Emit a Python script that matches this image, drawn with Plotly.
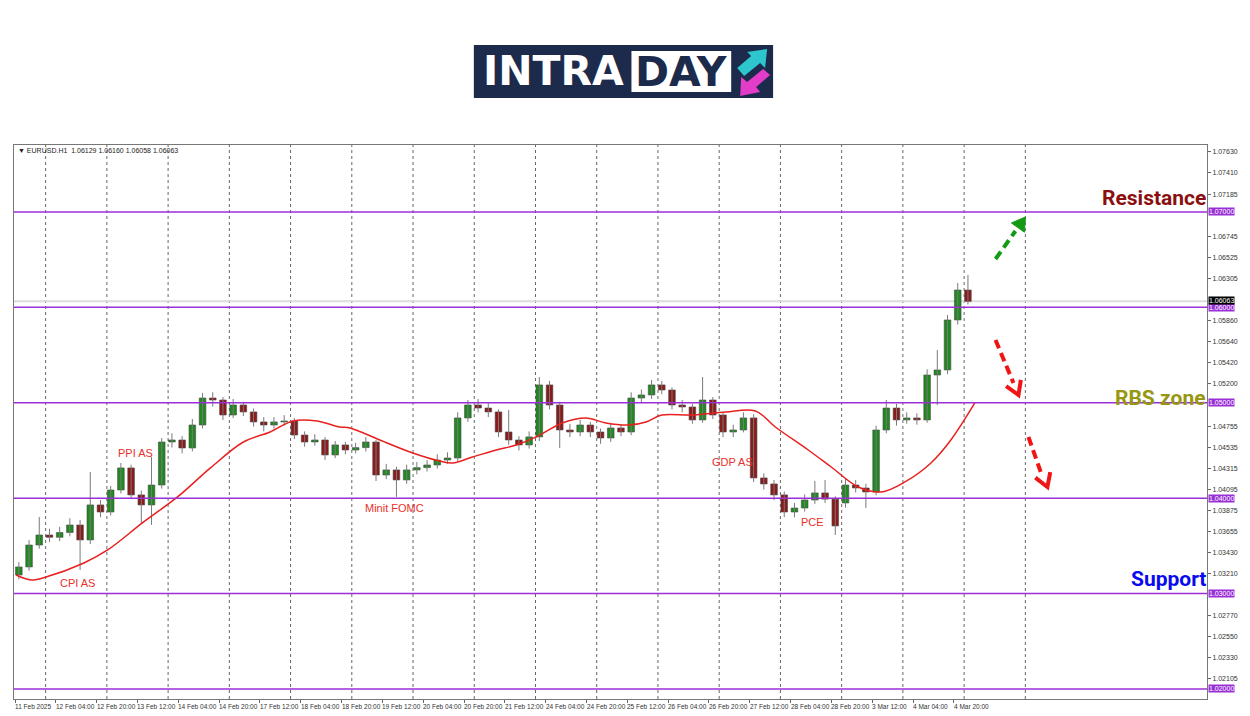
import math
import plotly.graph_objects as go

# ---------------- data ----------------
# 4-hour candles, position = hour index (1 bar = 1 hour, 11 Feb 2025 12:00 = 0)
candle_hour = [4 * i + 1.5 for i in range(94)]
opens = [1.03195, 1.03279, 1.03509, 1.03614, 1.03590, 1.03640, 1.03719, 1.03562, 1.03929, 1.03855,
         1.04086, 1.04317, 1.04034, 1.03929, 1.04138, 1.04589, 1.04610, 1.04526, 1.04767, 1.05050,
         1.05029, 1.04872, 1.04977, 1.04904, 1.04799, 1.04767, 1.04799, 1.04809, 1.04662, 1.04589,
         1.04610, 1.04453, 1.04558, 1.04505, 1.04530, 1.04589, 1.04243, 1.04296, 1.04191, 1.04296,
         1.04320, 1.04348, 1.04400, 1.04421, 1.04841, 1.04977, 1.04945, 1.04904, 1.04694, 1.04610,
         1.04558, 1.04642, 1.05187, 1.04977, 1.04715, 1.04694, 1.04767, 1.04694, 1.04631, 1.04736,
         1.04694, 1.05050, 1.05082, 1.05187, 1.05134, 1.04977, 1.04956, 1.04820, 1.05029, 1.04872,
         1.04694, 1.04715, 1.04841, 1.04212, 1.04149, 1.04034, 1.03855, 1.03897, 1.03981, 1.04055,
         1.03990, 1.03950, 1.04138, 1.04107, 1.04065, 1.04715, 1.04945, 1.04820, 1.04841, 1.04820,
         1.05291, 1.05344, 1.05868, 1.06182]
highs = [1.03330, 1.03560, 1.03803, 1.03680, 1.03700, 1.03790, 1.03771, 1.04275, 1.03980, 1.04130,
         1.04369, 1.04350, 1.04080, 1.04432, 1.04630, 1.04680, 1.04650, 1.04830, 1.05103, 1.05110,
         1.05060, 1.05040, 1.05010, 1.04940, 1.04850, 1.04850, 1.04870, 1.04840, 1.04700, 1.04670,
         1.04640, 1.04600, 1.04590, 1.04580, 1.04640, 1.04610, 1.04360, 1.04330, 1.04350, 1.04380,
         1.04400, 1.04460, 1.04480, 1.04900, 1.05030, 1.05040, 1.05000, 1.04930, 1.04925, 1.04650,
         1.04700, 1.05270, 1.05230, 1.05010, 1.04780, 1.04820, 1.04800, 1.04730, 1.04790, 1.04770,
         1.05110, 1.05140, 1.05240, 1.05230, 1.05160, 1.05030, 1.04990, 1.05270, 1.05060, 1.04900,
         1.04770, 1.04900, 1.04880, 1.04260, 1.04190, 1.04070, 1.03950, 1.04040, 1.04180, 1.04191,
         1.04020, 1.04200, 1.04190, 1.04150, 1.04760, 1.05029, 1.04990, 1.04900, 1.04890, 1.05350,
         1.05553, 1.05920, 1.06256, 1.06340]
lows = [1.03150, 1.03240, 1.03470, 1.03540, 1.03550, 1.03600, 1.03247, 1.03520, 1.03800, 1.03820,
        1.04050, 1.03990, 1.03740, 1.03720, 1.04100, 1.04530, 1.04470, 1.04490, 1.04730, 1.04960,
        1.04820, 1.04840, 1.04860, 1.04750, 1.04700, 1.04730, 1.04760, 1.04620, 1.04540, 1.04550,
        1.04400, 1.04420, 1.04460, 1.04470, 1.04490, 1.04180, 1.04200, 1.04013, 1.04150, 1.04250,
        1.04280, 1.04310, 1.04360, 1.04390, 1.04800, 1.04900, 1.04850, 1.04640, 1.04560, 1.04500,
        1.04520, 1.04600, 1.04930, 1.04526, 1.04640, 1.04650, 1.04640, 1.04570, 1.04590, 1.04650,
        1.04660, 1.05000, 1.05040, 1.05090, 1.04930, 1.04900, 1.04780, 1.04790, 1.04830, 1.04640,
        1.04640, 1.04690, 1.04170, 1.04090, 1.03980, 1.03800, 1.03800, 1.03860, 1.03940, 1.03950,
        1.03614, 1.03900, 1.04060, 1.03897, 1.04030, 1.04680, 1.04760, 1.04780, 1.04770, 1.04790,
        1.04977, 1.05300, 1.05820, 1.06030]
closes = [1.03279, 1.03509, 1.03614, 1.03590, 1.03640, 1.03719, 1.03562, 1.03929, 1.03855, 1.04086,
          1.04317, 1.04034, 1.03929, 1.04138, 1.04589, 1.04610, 1.04526, 1.04767, 1.05050, 1.05029,
          1.04872, 1.04977, 1.04904, 1.04799, 1.04767, 1.04799, 1.04809, 1.04662, 1.04589, 1.04610,
          1.04453, 1.04558, 1.04505, 1.04530, 1.04589, 1.04243, 1.04296, 1.04191, 1.04296, 1.04320,
          1.04348, 1.04400, 1.04421, 1.04841, 1.04977, 1.04945, 1.04904, 1.04694, 1.04610, 1.04558,
          1.04642, 1.05187, 1.04977, 1.04715, 1.04694, 1.04767, 1.04694, 1.04631, 1.04736, 1.04694,
          1.05050, 1.05082, 1.05187, 1.05134, 1.04977, 1.04956, 1.04820, 1.05029, 1.04872, 1.04694,
          1.04715, 1.04841, 1.04212, 1.04149, 1.04034, 1.03855, 1.03897, 1.03981, 1.04055, 1.03990,
          1.03709, 1.04138, 1.04107, 1.04065, 1.04715, 1.04945, 1.04820, 1.04841, 1.04820, 1.05291,
          1.05344, 1.05868, 1.06182, 1.06063]

# moving average
ma_hour = [0.4, 6.3, 12.1, 27, 36.3, 50.4, 63.7, 76.6, 89.5, 100, 109, 118.4, 127.3, 131.3, 143,
           155.9, 166.4, 171.5, 179.3, 188.7, 196.5, 204.3, 214.5, 223.8, 231.6, 240.6, 247.3,
           253.5, 265.2, 278.5, 290.2, 298, 310.9, 319.9, 330.5, 339.5, 348.8, 359, 366.8, 376.2]
ma_val = [1.03195, 1.03143, 1.03174, 1.03321, 1.03457, 1.03751, 1.04013, 1.04317, 1.04589, 1.04694,
          1.04809, 1.04809, 1.04746, 1.04736, 1.04610, 1.04474, 1.04390, 1.04369, 1.04432, 1.04505,
          1.04558, 1.04642, 1.04788, 1.04841, 1.04788, 1.04767, 1.04799, 1.04872, 1.04872, 1.04904,
          1.04914, 1.04746, 1.04505, 1.04327, 1.04117, 1.04065, 1.04170, 1.04369, 1.04610, 1.04998]

x_tick_hours = [0, 16, 32, 48, 64, 80, 96, 112, 128, 144, 160, 176, 192, 208, 224, 240, 256, 272,
                288, 304, 320, 336, 352, 368]
x_tick_labels = ["11 Feb 2025", "12 Feb 04:00", "12 Feb 20:00", "13 Feb 12:00", "14 Feb 04:00",
                 "14 Feb 20:00", "17 Feb 12:00", "18 Feb 04:00", "18 Feb 20:00", "19 Feb 12:00",
                 "20 Feb 04:00", "20 Feb 20:00", "21 Feb 12:00", "24 Feb 04:00", "24 Feb 20:00",
                 "25 Feb 12:00", "26 Feb 04:00", "26 Feb 20:00", "27 Feb 12:00", "28 Feb 04:00",
                 "28 Feb 20:00", "3 Mar 12:00", "4 Mar 04:00", "4 Mar 20:00"]
day_grid_hours = list(range(12, 397, 24))

y_tick_vals = [1.07630, 1.07410, 1.07185, 1.06745, 1.06525, 1.06305, 1.05860, 1.05640, 1.05420,
               1.05200, 1.04755, 1.04535, 1.04315, 1.04095, 1.03875, 1.03655, 1.03430, 1.03210,
               1.02770, 1.02550, 1.02330, 1.02105, 1.01885]
levels = [1.07, 1.06, 1.05, 1.04, 1.03, 1.02]
last_price = 1.06063

events = ["CPI AS", "PPI AS", "Minit FOMC", "GDP AS", "PCE"]
event_hour = [24.6, 47.3, 148.8, 281.2, 312.4]
event_price = [1.03110, 1.04475, 1.03900, 1.04380, 1.03750]

zones = ["Resistance", "RBS zone", "Support"]
zone_price = [1.07145, 1.05055, 1.03155]
zone_color = ["#8a0f0f", "#979712", "#0a0af0"]

# ---------------- layout helpers ----------------
W, H = 1250, 716
L, R, T, B = 14, 1210, 145, 699


def px(x):
    return (x - L) / (R - L)


def py(y):
    return (B - y) / (B - T)


fig = go.Figure()

# wicks
wx, wy = [], []
for h, lo, hi in zip(candle_hour, lows, highs):
    wx += [h, h, None]
    wy += [lo, hi, None]
fig.add_trace(go.Scatter(x=wx, y=wy, mode="lines", line=dict(color="#7a7a7a", width=1),
                         showlegend=False, hoverinfo="skip"))
# bodies
body_color = ["#1f8a1f" if c >= o else "#8b1a1a" for o, c in zip(opens, closes)]
body_h = [(c - o) if abs(c - o) > 0.00003 else 0.00003 for o, c in zip(opens, closes)]
fig.add_trace(go.Bar(x=candle_hour, y=body_h, base=opens, width=2.6,
                     marker=dict(color=body_color, line=dict(color="#4a4a4a", width=0.6)),
                     showlegend=False, hoverinfo="skip"))
fig.add_trace(go.Scatter(x=ma_hour, y=ma_val, mode="lines",
                         line=dict(color="#e8201e", width=1.5, shape="spline"),
                         showlegend=False, hoverinfo="skip"))

shapes = []
for h in day_grid_hours:
    shapes.append(dict(type="line", xref="x", yref="paper", x0=h, x1=h, y0=0, y1=1,
                       line=dict(color="#666", width=1, dash="dot"), layer="below"))
shapes.append(dict(type="line", xref="paper", yref="y", x0=0, x1=1, y0=last_price, y1=last_price,
                   line=dict(color="#dcdcdc", width=2), layer="below"))
for lv in levels:
    shapes.append(dict(type="line", xref="paper", yref="y", x0=0, x1=1, y0=lv, y1=lv,
                       line=dict(color="#9a2fd6", width=1.5), layer="above"))


def dash_arrow(p0, p1, tip, color, filled):
    shapes.append(dict(type="line", xref="paper", yref="paper",
                       x0=px(p0[0]), y0=py(p0[1]), x1=px(p1[0]), y1=py(p1[1]),
                       line=dict(color=color, width=4, dash="9px,5px")))
    dx, dy = tip[0] - p0[0], tip[1] - p0[1]
    n = math.hypot(dx, dy)
    ux, uy = dx / n, dy / n
    bx, by = tip[0] - ux * 13, tip[1] - uy * 13
    a = (bx - uy * 8, by + ux * 8)
    b = (bx + uy * 8, by - ux * 8)
    if filled:
        path = "M{},{} L{},{} L{},{} Z".format(px(a[0]), py(a[1]), px(tip[0]), py(tip[1]),
                                              px(b[0]), py(b[1]))
        shapes.append(dict(type="path", xref="paper", yref="paper", path=path,
                           fillcolor=color, line=dict(color=color, width=1)))
    else:
        path = "M{},{} L{},{} L{},{}".format(px(a[0]), py(a[1]), px(tip[0]), py(tip[1]),
                                            px(b[0]), py(b[1]))
        shapes.append(dict(type="path", xref="paper", yref="paper", path=path,
                           line=dict(color=color, width=4)))


dash_arrow((998, 259), (1018, 231), (1028, 217), "#159a15", True)
dash_arrow((998, 340), (1016, 383), (1021, 395), "#f01414", False)
dash_arrow((1031, 437), (1044, 474), (1050, 487), "#f01414", False)

# logo
shapes.append(dict(type="rect", xref="paper", yref="paper", x0=px(475), x1=px(775), y0=py(98), y1=py(45),
                   fillcolor="#1c2b4c", line=dict(width=0)))
shapes.append(dict(type="rect", xref="paper", yref="paper", x0=px(633), x1=px(733), y0=py(92), y1=py(51),
                   fillcolor="#ffffff", line=dict(width=0)))


def poly(pts, color):
    path = "M" + " L".join("{},{}".format(px(a), py(b)) for a, b in pts) + " Z"
    shapes.append(dict(type="path", xref="paper", yref="paper", path=path,
                       fillcolor=color, line=dict(width=0)))


poly([(739, 68), (753, 56), (749, 52), (769, 49), (767, 68), (762, 63), (746, 76)], "#2cc6cc")
poly([(772, 75), (758, 87), (762, 92), (742, 96), (743, 77), (749, 82), (765, 69)], "#e23cc8")

annotations = []
for h, t in zip(x_tick_hours, x_tick_labels):
    annotations.append(dict(x=h, y=0, xref="x", yref="paper", text=t, showarrow=False,
                            xanchor="left", yanchor="top", yshift=-2, xshift=-2,
                            font=dict(family="Liberation Sans", size=6.5, color="#333")))
for lv in levels:
    annotations.append(dict(x=1, y=lv, xref="paper", yref="y", text="{:.5f}".format(lv), showarrow=False,
                            xanchor="left", yanchor="middle", xshift=1, bgcolor="#9a2fd6",
                            borderpad=0, font=dict(family="Liberation Sans", size=7, color="white")))
annotations.append(dict(x=1, y=last_price, xref="paper", yref="y", text="{:.5f}".format(last_price),
                        showarrow=False, xanchor="left", yanchor="middle", xshift=1, yshift=1,
                        bgcolor="#000000", borderpad=0,
                        font=dict(family="Liberation Sans", size=7, color="white")))
for t, h, p in zip(events, event_hour, event_price):
    annotations.append(dict(x=h, y=p, xref="x", yref="y", text=t, showarrow=False,
                            font=dict(family="Liberation Sans", size=11, color="#e8302a")))
for t, p, c in zip(zones, zone_price, zone_color):
    annotations.append(dict(x=px(1206), y=p, xref="paper", yref="y", text="<b>" + t + "</b>",
                            showarrow=False, xanchor="right", yanchor="middle", xshift=5,
                            font=dict(family="Roboto", size=21, color=c)))
annotations.append(dict(x=px(16), y=py(150), xref="paper", yref="paper",
                        text="\u25bc EURUSD.H1  1.06129 1.06160 1.06058 1.06063", showarrow=False,
                        xanchor="left", yanchor="middle",
                        font=dict(family="Liberation Sans", size=7, color="#222")))
annotations.append(dict(x=px(482), y=py(71), xref="paper", yref="paper", text="<b>INTRA</b>",
                        showarrow=False, xanchor="left", yanchor="middle",
                        font=dict(family="DejaVu Sans", size=41, color="white")))
annotations.append(dict(x=px(683), y=py(72), xref="paper", yref="paper", text="<b>DAY</b>",
                        showarrow=False, xanchor="center", yanchor="middle",
                        font=dict(family="DejaVu Sans", size=41, color="#1c2b4c")))

fig.update_layout(
    width=W, height=H, margin=dict(l=L, r=W - R, t=T, b=H - B),
    paper_bgcolor="white", plot_bgcolor="white", barmode="overlay",
    shapes=shapes, annotations=annotations,
    xaxis=dict(range=[-0.4, 467.2], showgrid=False, zeroline=False,
               tickvals=x_tick_hours, showticklabels=False, ticks="outside", ticklen=3,
               tickcolor="#666", showline=True, linecolor="#777", mirror=True),
    yaxis=dict(range=[1.01895, 1.07702], side="right", showgrid=False, zeroline=False,
               tickvals=y_tick_vals, ticktext=["{:.5f}".format(v) for v in y_tick_vals],
               ticks="outside", ticklen=3, tickcolor="#666", showline=True, linecolor="#777",
               mirror=True, tickfont=dict(family="Liberation Sans", size=7, color="#333")),
)

fig.write_html("out.html", config={"displayModeBar": False},
               post_script="document.body.style.margin='0';document.body.style.overflow='hidden';")
